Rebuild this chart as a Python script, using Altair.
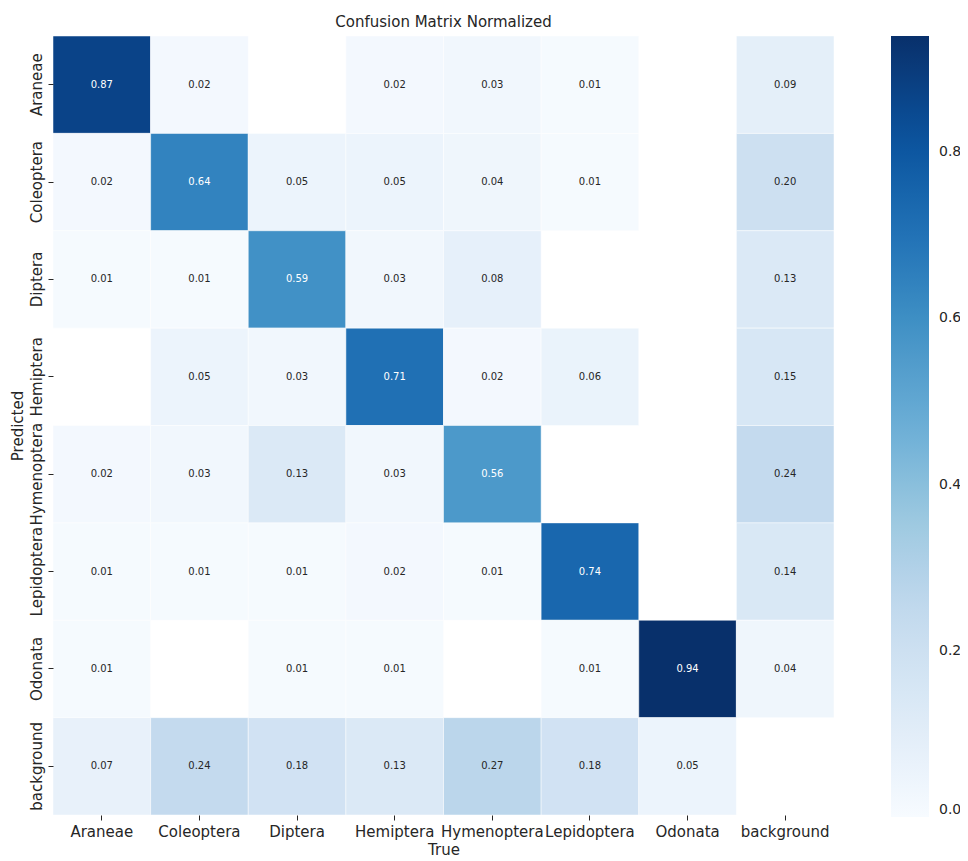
import altair as alt
import pandas as pd

classes = ["Araneae", "Coleoptera", "Diptera", "Hemiptera", "Hymenoptera",
           "Lepidoptera", "Odonata", "background"]

# rows = Predicted, columns = True ; None = empty cell
row_araneae = [0.87, 0.02, None, 0.02, 0.03, 0.01, None, 0.09]
row_coleoptera = [0.02, 0.64, 0.05, 0.05, 0.04, 0.01, None, 0.20]
row_diptera = [0.01, 0.01, 0.59, 0.03, 0.08, None, None, 0.13]
row_hemiptera = [None, 0.05, 0.03, 0.71, 0.02, 0.06, None, 0.15]
row_hymenoptera = [0.02, 0.03, 0.13, 0.03, 0.56, None, None, 0.24]
row_lepidoptera = [0.01, 0.01, 0.01, 0.02, 0.01, 0.74, None, 0.14]
row_odonata = [0.01, None, 0.01, 0.01, None, 0.01, 0.94, 0.04]
row_background = [0.07, 0.24, 0.18, 0.13, 0.27, 0.18, 0.05, None]

rows = [row_araneae, row_coleoptera, row_diptera, row_hemiptera,
        row_hymenoptera, row_lepidoptera, row_odonata, row_background]

records = []
for pred, vals in zip(classes, rows):
    for true, v in zip(classes, vals):
        if v is not None:
            records.append({"Predicted": pred, "True": true, "value": v,
                            "label": f"{v:.2f}"})
df = pd.DataFrame(records)

blues = ["#f7fbff", "#deebf7", "#c6dbef", "#9ecae1", "#6baed6",
         "#4292c6", "#2171b5", "#08519c", "#08306b"]
vmax = 0.94
dom = [vmax * i / 8 for i in range(9)]

W, H = 781, 779
FONT = "DejaVu Sans"

x = alt.X("True:N", sort=classes, title="True",
          scale=alt.Scale(domain=classes, paddingInner=0, paddingOuter=0),
          axis=alt.Axis(labelAngle=0, labelFontSize=15, titleFontSize=15,
                        labelColor="#262626", titleColor="#262626",
                        tickColor="#262626", tickSize=5, domain=False,
                        labelPadding=4, titlePadding=3, labelFont=FONT,
                        titleFont=FONT, titleFontWeight="normal"))
y = alt.Y("Predicted:N", sort=classes, title="Predicted",
          scale=alt.Scale(domain=classes, paddingInner=0, paddingOuter=0),
          axis=alt.Axis(labelAngle=270, labelAlign="center",
                        labelBaseline="bottom", labelFontSize=15,
                        titleFontSize=15, labelColor="#262626",
                        titleColor="#262626", tickColor="#262626",
                        tickSize=5, domain=False, labelPadding=4,
                        titlePadding=4, labelFont=FONT, titleFont=FONT,
                        titleFontWeight="normal"))

rect = alt.Chart(df).mark_rect(stroke="white", strokeWidth=0.5).encode(
    x=x, y=y,
    color=alt.Color("value:Q",
                    scale=alt.Scale(domain=dom, range=blues, clamp=True),
                    legend=alt.Legend(title=None, orient="none",
                                      legendX=W + 57, legendY=0,
                                      gradientLength=H + 2,
                                      gradientThickness=38,
                                      gradientStrokeWidth=0,
                                      values=[0.0, 0.2, 0.4, 0.6, 0.8],
                                      format=".1f", labelFontSize=14,
                                      labelColor="#262626", labelFont=FONT,
                                      labelOffset=10)),
)

text = alt.Chart(df).mark_text(fontSize=10, font=FONT).encode(
    x=alt.X("True:N", sort=classes),
    y=alt.Y("Predicted:N", sort=classes),
    text="label:N",
    color=alt.condition(alt.datum.value > 0.5, alt.value("white"),
                        alt.value("#262626")),
)

chart = (rect + text).properties(
    width=W, height=H,
    title=alt.TitleParams("Confusion Matrix Normalized", fontSize=15,
                          font=FONT, fontWeight="normal", color="#262626",
                          offset=6),
    padding={"left": 45, "top": 28, "right": 126, "bottom": 44},
    autosize=alt.AutoSizeParams(type="none"),
).configure(background="white", view=alt.ViewConfig(stroke=None, strokeWidth=0))

chart.save("out.html", embed_options={"renderer": "svg", "actions": False})
